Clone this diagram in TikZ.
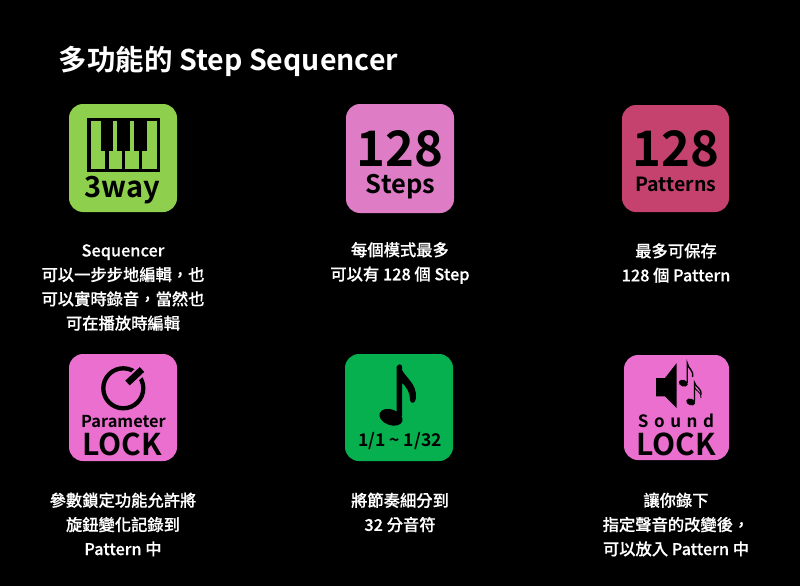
\documentclass[tikz,border=0pt]{standalone}
\usepackage{fontspec}
\setmainfont{Noto Sans CJK TC Bold}
\newfontfamily\medcjk{Noto Sans CJK TC Medium}[FakeBold=0.25]
\definecolor{cgreen}{HTML}{8ED04E}
\definecolor{cpink}{HTML}{DE7CC6}
\definecolor{crose}{HTML}{C6426E}
\definecolor{cmag}{HTML}{EA6FCF}
\definecolor{cemer}{HTML}{06B04E}
\tikzset{
  tile/.style={rounded corners=14pt,draw=none},
  desc/.style={text=white,font=\medcjk\fontsize{16.3}{24.3}\selectfont,align=center,inner sep=0pt},
  lab/.style={text=black,inner sep=0pt,align=center},
}
\begin{document}
\begin{tikzpicture}[x=1pt,y=-1pt]
\fill[black] (0,0) rectangle (800,586);
\useasboundingbox (0,0) rectangle (800,586);
\node[text=white,anchor=center,inner sep=0pt,font=\fontsize{28.5}{30}\selectfont] (title) at (228.5,61) {多功能的 Step Sequencer};
% tiles
\fill[tile,cgreen] (69,104) rectangle (177,212);
\fill[tile,cpink] (346,104) rectangle (454,213);
\fill[tile,crose] (622,105) rectangle (729,212);
\fill[tile,cmag] (69,354) rectangle (177,461);
\fill[tile,cemer] (345,354) rectangle (453,461);
\fill[tile,cmag] (624,355) rectangle (729,460);
% piano
\draw[black,line width=3.4pt] (89,119.7) rectangle (158.5,170.3);
\foreach \x in {107,123.5,140.6}{\draw[black,line width=3.4pt] (\x,150) -- (\x,170);}
\foreach \x in {100.5,117.3,134.2}{\fill[black] (\x,118) rectangle ++(12.3,33);}
\node[lab,font=\fontsize{29}{29}\selectfont] (way) at (122,190.5) {3way};
% 128 steps
\node[lab,font=\fontsize{25.5}{26}\selectfont] (s1) at (400.5,187) {Steps};
\node[lab,font=\fontsize{49}{49}\selectfont] (n1) at (400,149) {128};
% 128 patterns
\node[lab,font=\fontsize{19.5}{20}\selectfont] (p1) at (676,184) {Patterns};
\node[lab,font=\fontsize{49}{49}\selectfont] (n2) at (676,149) {128};
% knob
\draw[black,line width=4.3pt] (123.3,388.3) circle (20);
\draw[cmag,line width=11pt] (128,383) -- (146,366);
\draw[black,line width=6.5pt] (127.5,383) -- (142,369.5);
\node[lab,font=\fontsize{16.4}{17}\selectfont] (pa) at (123.5,421.5) {Parameter};
\node[lab,font=\fontsize{30}{30}\selectfont] (lo) at (122,444) {LOCK};
% note
\fill[black,rotate around={-20:(391,417.3)}] (391,417.3) ellipse (12 and 7.8);
\fill[black] (396.5,367) .. controls (398,363.5) and (402,363.5) .. (402,367) -- (402,370)
  .. controls (406,378) and (417,384) .. (416,398)
  .. controls (415.5,404) and (410.5,404) .. (410,400)
  .. controls (410,392) and (406,386) .. (402,383) -- (402,416) -- (396.5,418) -- cycle;
\node[lab,font=\fontsize{17.5}{18}\selectfont] (rng) at (400,441.5) {1/1 \textasciitilde\ 1/32};
% speaker
\fill[black] (656,378) -- (665,378) -- (676.7,363) -- (676.7,408) -- (665,396.3) -- (656,396.3) -- cycle;
\fill[black,rotate around={-20:(683.3,383.2)}] (683.3,383.2) ellipse (4.6 and 3.3);
\draw[black,line width=1.4pt] (687.2,383) -- (687.2,363) .. controls (688,369) and (694,370) .. (692.5,377);
\fill[black,rotate around={-20:(690.7,402)}] (690.7,402) ellipse (4.6 and 3.3);
\draw[black,line width=1.3pt] (694.4,401.5) -- (694.4,382.5) .. controls (695,387) and (702,388) .. (701,395);
\draw[black,line width=.8pt] (694.4,386.5) .. controls (695,391) and (702,392) .. (701,398);
\node[lab,font=\fontsize{17}{18}\selectfont] (so) at (676,421) {S\hspace{5.6pt}o\hspace{5.6pt}u\hspace{5.6pt}n\hspace{5.6pt}d};
\node[lab,font=\fontsize{30}{30}\selectfont] (lk) at (676,444) {LOCK};
% descriptions
\node[desc] (d1) at (123,287.5) {Sequencer\\可以一步步地編輯，也\\可以實時錄音，當然也\\可在播放時編輯};
\node[desc] (d2) at (400,263) {每個模式最多\\可以有 128 個 Step};
\node[desc] (d3) at (676,263) {最多可保存\\128 個 Pattern};
\node[desc] (d4) at (123,524.5) {參數鎖定功能允許將\\旋鈕變化記錄到\\Pattern 中};
\node[desc] (d5) at (400,512.5) {將節奏細分到\\32 分音符};
\node[desc] (d6) at (676,524.5) {讓你錄下\\指定聲音的改變後，\\可以放入 Pattern 中};
\end{tikzpicture}
\end{document}
